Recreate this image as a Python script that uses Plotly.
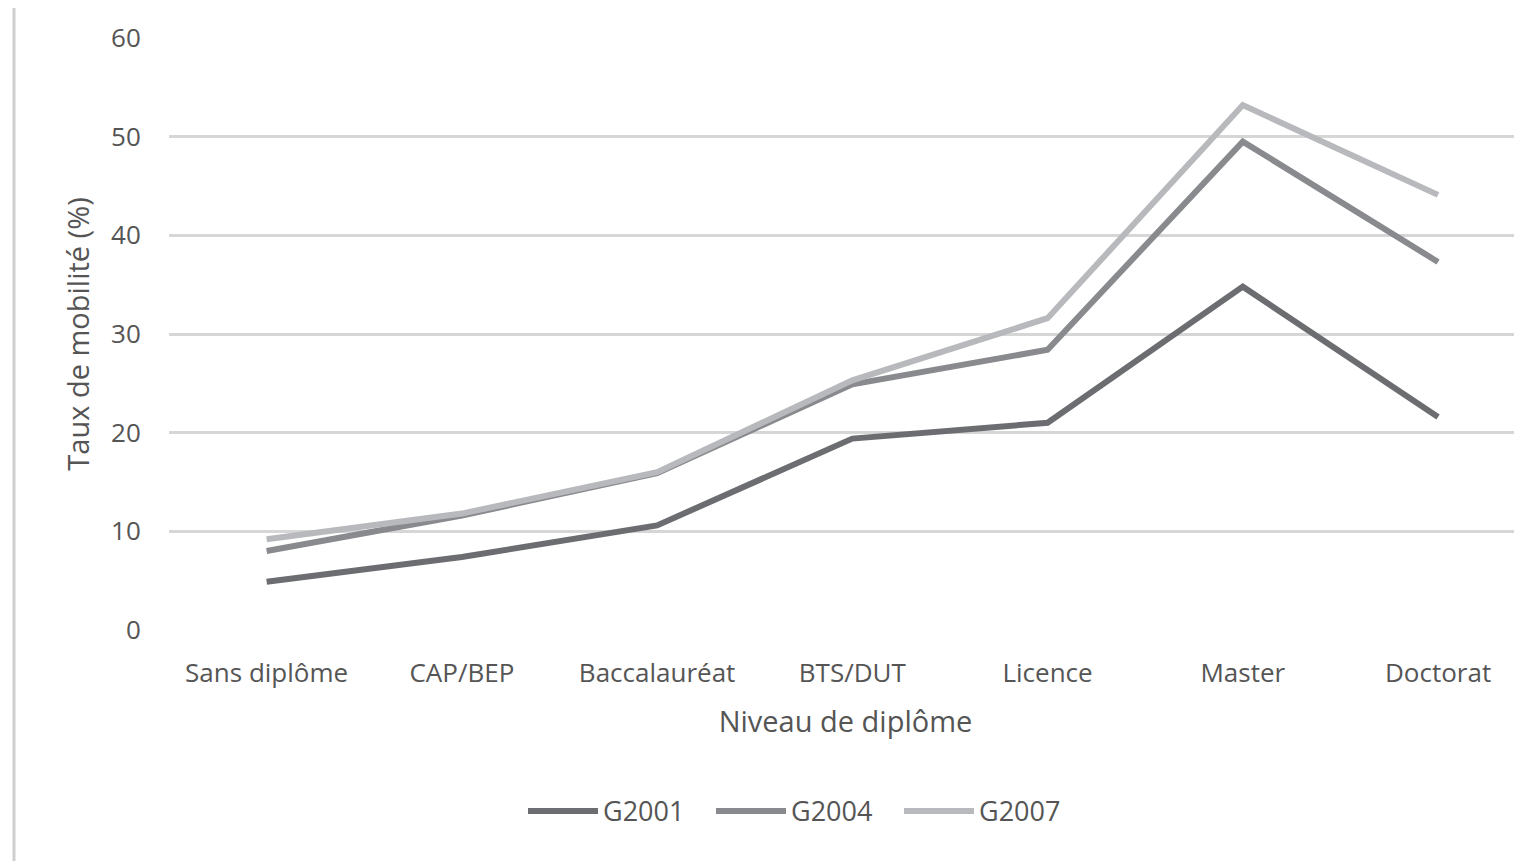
import plotly.graph_objects as go

categories = ["Sans diplôme", "CAP/BEP", "Baccalauréat", "BTS/DUT", "Licence", "Master", "Doctorat"]
g2001 = [4.9, 7.4, 10.6, 19.4, 21.0, 34.8, 21.6]
g2004 = [8.0, 11.6, 15.9, 24.9, 28.4, 49.5, 37.3]
g2007 = [9.2, 11.8, 16.0, 25.3, 31.6, 53.2, 44.1]
series_names = ["G2001", "G2004", "G2007"]
series_colors = ["#6c6d71", "#898a8e", "#b8b9bc"]
y_ticks = [0, 10, 20, 30, 40, 50, 60]

font_family = "Open Sans, Noto Sans, sans-serif"
text_color = "#555555"

fig = go.Figure()
for name, vals, col in zip(series_names, [g2001, g2004, g2007], series_colors):
    fig.add_trace(go.Scatter(
        x=categories, y=vals, name=name, mode="lines",
        line=dict(color=col, width=6),
    ))

# page body has an 8px margin: figure origin sits at (8, 8) on screen
W, H = 1514, 853
ml, mr, mt, mb = 161, 0, 30, 231
pw = W - ml - mr
ph = H - mt - mb

fig.update_layout(
    width=W, height=H,
    margin=dict(l=ml, r=mr, t=mt, b=mb),
    paper_bgcolor="white", plot_bgcolor="white",
    font=dict(family=font_family, size=26, color=text_color),
    showlegend=True,
    legend=dict(orientation="h", x=(515 - ml) / pw, xanchor="left", y=-0.265, yanchor="top",
                font=dict(size=27, color=text_color), itemwidth=70,
                entrywidth=103, entrywidthmode="pixels", traceorder="normal"),
    xaxis=dict(
        type="category", range=[-0.5, 6.43], showgrid=False, zeroline=False,
        showline=False, ticks="outside", ticklen=20, tickcolor="rgba(0,0,0,0)",
        tickfont=dict(size=26, color=text_color),
        title=dict(text="Niveau de diplôme", font=dict(size=29, color=text_color), standoff=22),
    ),
    yaxis=dict(
        range=[0, 60], tickvals=y_ticks, showgrid=True, gridcolor="#d6d6d6", gridwidth=2.5,
        zeroline=False, showline=False, ticks="outside", ticklen=22,
        tickcolor="rgba(0,0,0,0)", tickfont=dict(size=26, color=text_color),
        title=dict(text="Taux de mobilité (%)", font=dict(size=29, color=text_color), standoff=12),
    ),
)

# left frame line of the original figure
fig.add_shape(type="line", xref="paper", yref="paper",
              x0=(6 - ml) / pw, x1=(6 - ml) / pw,
              y0=(H - mb) / ph, y1=(H - mb - 861) / ph,
              line=dict(color="#cfcfcf", width=3))

fig.write_html("out.html")
